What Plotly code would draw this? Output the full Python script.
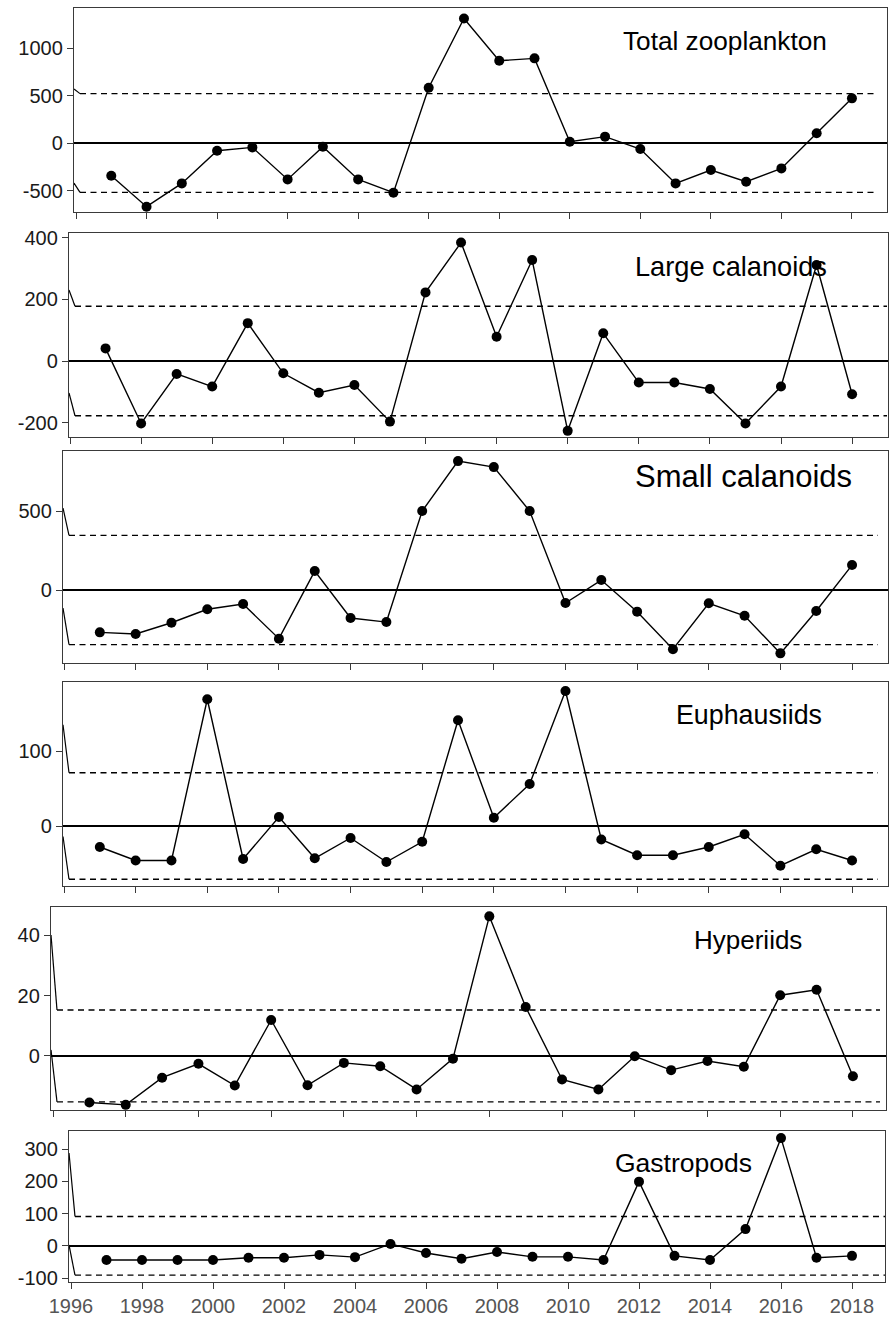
import plotly.graph_objects as go

# ---------------- data ----------------
years = list(range(1997, 2019))

total_zoo = [-344, -670, -425, -81, -46, -383, -39, -383, -523, 582, 1310, 866,
             891, 14, 67, -63, -425, -284, -407, -267, 102, 470]
large_cal = [41, -203, -42, -83, 123, -40, -103, -78, -197, 223, 385, 79,
             328, -227, 90, -70, -70, -91, -203, -83, 312, -108]
small_cal = [-268, -278, -207, -122, -89, -308, 120, -177, -203, 500, 816, 778,
             500, -82, 63, -137, -375, -84, -163, -401, -133, 158]
euphausiids = [-28, -46, -46, 169, -44, 12, -43, -16, -48, -21, 141, 11,
               56, 180, -18, -39, -39, -28, -11, -53, -31, -46]
hyperiids = [-15.4, -16.2, -7.2, -2.6, -9.8, 11.9, -9.7, -2.3, -3.4, -11.1, -0.9, 46.2,
             16.2, -7.8, -11.1, -0.1, -4.7, -1.7, -3.6, 20.1, 21.9, -6.7]
gastropods = [-44, -44, -44, -44, -37, -37, -28, -35, 6, -22, -40, -19,
              -34, -34, -44, 199, -31, -44, 52, 334, -37, -31]

panel_names = ["Total zooplankton", "Large calanoids", "Small calanoids",
               "Euphausiids", "Hyperiids", "Gastropods"]
series = [total_zoo, large_cal, small_cal, euphausiids, hyperiids, gastropods]

# +/- threshold (dashed lines) and the start values of the short lead-in strokes
thresholds = [520, 178, 346, 71, 15.2, 91]
lead_upper = [568, 231, 519, 135, 40, 288]
lead_lower = [-421, -104, -114, -14, 2, 3]

y_tickvals = [[-500, 0, 500, 1000], [-200, 0, 200, 400], [0, 500], [0, 100],
              [0, 20, 40], [-100, 0, 100, 200, 300]]
x_tickvals = list(range(1996, 2019, 2))

# ---------------- layout geometry (pixels) ----------------
W, H = 892, 1319
# box left, right, top, bottom ; pixel of 1996 ; pixels per year ; y range
geom = [
    dict(l=74, r=887, t=8, b=212, x0=76, ppy=35.27, yr=[-726, 1421]),
    dict(l=69, r=888, t=233, b=437, x0=70, ppy=35.55, yr=[-247, 416]),
    dict(l=63, r=888, t=451, b=663, x0=64, ppy=35.82, yr=[-462, 880]),
    dict(l=63, r=888, t=682, b=886, x0=64, ppy=35.82, yr=[-80, 192]),
    dict(l=51, r=886, t=907, b=1110, x0=53, ppy=36.36, yr=[-17.9, 49.3]),
    dict(l=69, r=885, t=1131, b=1282, x0=71, ppy=35.5, yr=[-112, 356]),
]
dash_end_px = [877, 887, 878, 878, 880, 885]
lead_len_px = 6
label_pos = [(725, 41, 26.2), (731, 266, 27.2), (743, 476, 31), (749, 715, 26.8),
             (748, 940, 26), (683, 1163, 26.5)]

FONT = "Liberation Sans, Arial, sans-serif"

fig = go.Figure()
annotations = []

for i, g in enumerate(geom):
    n = i + 1
    xa = "x" if n == 1 else f"x{n}"
    ya = "y" if n == 1 else f"y{n}"
    px2x = lambda p, g=g: 1996 + (p - g["x0"]) / g["ppy"]
    xlo, xhi = px2x(g["l"]), px2x(g["r"])
    xd0 = px2x(g["l"] + lead_len_px)
    xd1 = px2x(dash_end_px[i])
    thr = thresholds[i]

    # lead-in strokes
    fig.add_trace(go.Scatter(
        x=[xlo, xd0, None, xlo, xd0],
        y=[lead_upper[i], thr, None, lead_lower[i], -thr],
        mode="lines", line=dict(color="black", width=1.2),
        xaxis=xa, yaxis=ya, showlegend=False, hoverinfo="skip", cliponaxis=False))
    # dashed thresholds
    fig.add_trace(go.Scatter(
        x=[xd0, xd1, None, xd0, xd1],
        y=[thr, thr, None, -thr, -thr],
        mode="lines", line=dict(color="black", width=1.3, dash="6px,4.5px"),
        xaxis=xa, yaxis=ya, showlegend=False, hoverinfo="skip"))
    # series
    fig.add_trace(go.Scatter(
        x=years, y=series[i], mode="lines+markers",
        line=dict(color="black", width=1.4),
        marker=dict(color="black", size=10),
        xaxis=xa, yaxis=ya, showlegend=False, cliponaxis=False))

    xdom = [g["l"] / W, g["r"] / W]
    ydom = [1 - g["b"] / H, 1 - g["t"] / H]
    common = dict(showgrid=False, showline=True, mirror=True, linecolor="#3a3a3a",
                  linewidth=1.3, ticks="outside", ticklen=6, tickwidth=1,
                  tickcolor="#3a3a3a", automargin=False)
    fig.update_layout(**{
        ("xaxis" if n == 1 else f"xaxis{n}"): dict(
            domain=xdom, range=[xlo, xhi], anchor=ya, tickvals=x_tickvals,
            ticktext=[str(v) for v in x_tickvals],
            showticklabels=(n == 6), zeroline=False,
            tickfont=dict(family=FONT, size=20, color="#555555"), **common),
        ("yaxis" if n == 1 else f"yaxis{n}"): dict(
            domain=ydom, range=g["yr"], anchor=xa, tickvals=y_tickvals[i],
            ticktext=[str(v) for v in y_tickvals[i]],
            zeroline=True, zerolinecolor="black", zerolinewidth=1.6,
            tickfont=dict(family=FONT, size=20, color="#1a1a1a"), **common),
    })
    cx, cy, fs = label_pos[i]
    annotations.append(dict(
        text=panel_names[i], xref="paper", yref="paper", x=cx / W, y=1 - cy / H,
        xanchor="center", yanchor="middle", showarrow=False,
        font=dict(family=FONT, size=fs, color="black")))

fig.update_layout(width=W, height=H, margin=dict(l=0, r=0, t=0, b=0),
                  template="none",
                  paper_bgcolor="white", plot_bgcolor="white",
                  annotations=annotations)

fig.write_html("out.html", config={"displayModeBar": False},
               post_script="document.body.style.margin='0';"
                           "document.body.style.overflow='hidden';")
